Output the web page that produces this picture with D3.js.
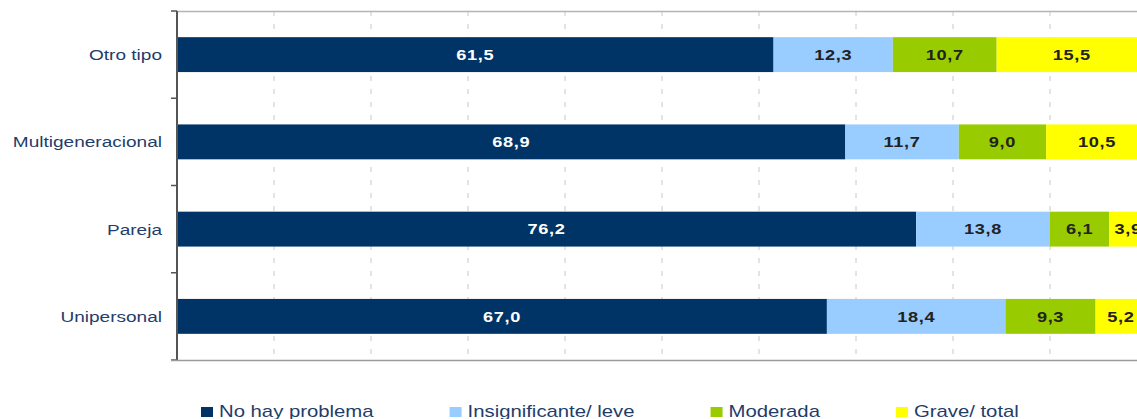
<!DOCTYPE html>
<html>
<head>
<meta charset="utf-8">
<script src="https://cdn.jsdelivr.net/npm/d3@7"></script>
<style>
  body { margin: 0; background: #fff; }
  svg { display: block; font-family: Arial, "Liberation Sans", sans-serif; }
</style>
</head>
<body>
<div id="chart"></div>
<script>
// household types, top to bottom
var categories = ["Otro tipo", "Multigeneracional", "Pareja", "Unipersonal"];
var series = ["No hay problema", "Insignificante/ leve", "Moderada", "Grave/ total"];
var noProblema = [61.5, 68.9, 76.2, 67.0];
var leve = [12.3, 11.7, 13.8, 18.4];
var moderada = [10.7, 9.0, 6.1, 9.3];
var grave = [15.5, 10.5, 3.9, 5.2];
var xTicks = [0, 10, 20, 30, 40, 50, 60, 70, 80, 90, 100];

var colors = ["#003366", "#99ccff", "#99cc00", "#ffff00"];
var labelColors = ["#ffffff", "#222222", "#222222", "#222222"];
var sx = 1.27; // text in the reference is stretched sideways

var rows = categories.map(function(c, i) {
  return { cat: c, "No hay problema": noProblema[i], "Insignificante/ leve": leve[i],
           "Moderada": moderada[i], "Grave/ total": grave[i] };
});

var width = 1137, height = 419;
var svg = d3.select("#chart").append("svg")
  .attr("width", width).attr("height", height);

var x = d3.scaleLinear().domain([0, 100]).range([177, 1147]);
var y = d3.scaleBand().domain(categories).range([11, 360])
  .paddingInner(0.6).paddingOuter(0.3);

// dashed grid
svg.append("g").selectAll("line").data(xTicks.slice(1)).enter().append("line")
  .attr("x1", function(d) { return x(d); }).attr("x2", function(d) { return x(d); })
  .attr("y1", 11).attr("y2", 360)
  .attr("stroke", "#c8c8c8").attr("stroke-width", 1)
  .attr("stroke-dasharray", "5,8");

// top border
svg.append("line").attr("x1", x(0)).attr("x2", width).attr("y1", 11.5).attr("y2", 11.5)
  .attr("stroke", "#b4b4b4").attr("stroke-width", 1.5);

// stacked bars
var stack = d3.stack().keys(series)(rows);
var layers = svg.append("g").selectAll("g").data(stack).enter().append("g")
  .attr("fill", function(d, i) { return colors[i]; });

layers.selectAll("rect").data(function(d) { return d; }).enter().append("rect")
  .attr("x", function(d) { return x(d[0]); })
  .attr("y", function(d) { return y(d.data.cat); })
  .attr("width", function(d) { return x(d[1]) - x(d[0]); })
  .attr("height", y.bandwidth());

// value labels
layers.each(function(layer, i) {
  d3.select(this).selectAll("text").data(layer).enter().append("text")
    .attr("transform", function(d) {
      return "translate(" + (x(d[0]) + x(d[1])) / 2 + "," + (y(d.data.cat) + y.bandwidth() / 2) + ") scale(1.3,1)";
    })
    .attr("dy", "0.38em")
    .attr("text-anchor", "middle")
    .attr("fill", labelColors[i])
    .style("font-size", "14px").style("font-weight", "bold").style("letter-spacing", "0.5px")
    .text(function(d) { return d3.format(".1f")(d[1] - d[0]).replace(".", ","); });
});

// left axis with ticks between bands
var step = y.step();
var bounds = [y.range()[0]].concat(categories.map(function(c) { return y(c) + y.bandwidth() + step * y.paddingInner() / 2; }));
bounds[bounds.length - 1] = y.range()[1];
svg.append("g").selectAll("line").data(bounds).enter().append("line")
  .attr("x1", 171).attr("x2", x(0))
  .attr("y1", function(d) { return d; }).attr("y2", function(d) { return d; })
  .attr("stroke", "#555").attr("stroke-width", 1.5);
svg.append("line").attr("x1", x(0)).attr("x2", x(0)).attr("y1", 11).attr("y2", 360)
  .attr("stroke", "#555").attr("stroke-width", 2);
svg.append("line").attr("x1", 171).attr("x2", width).attr("y1", 360.5).attr("y2", 360.5)
  .attr("stroke", "#9a9a9a").attr("stroke-width", 1.5);

// category labels
svg.append("g").selectAll("text").data(categories).enter().append("text")
  .attr("transform", function(d) { return "translate(162," + (y(d) + y.bandwidth() / 2) + ") scale(" + sx + ",1)"; })
  .attr("dy", "0.36em")
  .attr("text-anchor", "end")
  .attr("fill", "#1f3d6b")
  .style("font-size", "15px")
  .text(function(d) { return d; });

// legend
var lx = 201;
var legend = svg.append("g");
series.forEach(function(s, i) {
  legend.append("rect").attr("x", lx).attr("y", 407).attr("width", 12).attr("height", 10)
    .attr("fill", colors[i]);
  var t = legend.append("text")
    .attr("transform", "translate(" + (lx + 18) + ",417) scale(" + sx + ",1)")
    .attr("fill", "#1f3d6b")
    .style("font-size", "16px")
    .text(s);
  lx += 18 + t.node().getComputedTextLength() * sx + 76;
});
</script>
</body>
</html>
